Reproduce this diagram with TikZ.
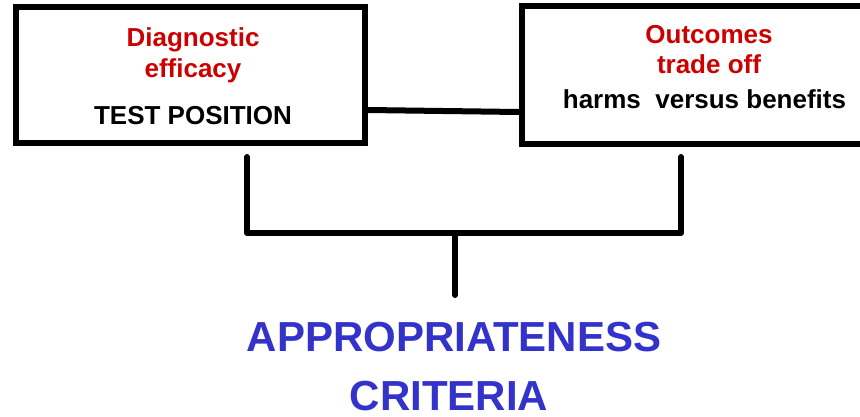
\documentclass[tikz,border=0pt]{standalone}
\usepackage{fontspec}
\setmainfont{Liberation Sans}
\definecolor{hdred}{HTML}{CC0000}
\definecolor{critblue}{HTML}{3333CC}
\begin{document}
\begin{tikzpicture}[x=1pt,y=-1pt,
  box/.style={draw=black,line width=6pt,minimum width=#1,inner sep=0pt},
  line/.style={draw=black,line width=6pt,line cap=round,line join=round},
  redtxt/.style={anchor=base,inner sep=0pt,text=hdred,font=\fontsize{26}{31}\selectfont\bfseries},
  blktxt/.style={anchor=base,inner sep=0pt,text=black,font=\fontsize{26}{31}\selectfont\bfseries},
  bluetxt/.style={anchor=base,inner sep=0pt,text=critblue,font=\fontsize{42}{50}\selectfont\bfseries}]
\useasboundingbox (0,0) rectangle (860,416);
\clip (0,0) rectangle (860,416);
\fill[white] (0,0) rectangle (860,416);
\node[box=349pt,minimum height=136pt] (L) at (190.5,75) {};
\node[box=368pt,minimum height=138.5pt] (R) at (706,74.75) {};
\node[redtxt] (l1) at (193,46) {Diagnostic};
\node[redtxt] (l2) at (193,77) {efficacy};
\node[blktxt] (l3) at (193,124) {TEST POSITION};
\node[redtxt] (r1) at (709,43) {Outcomes};
\node[redtxt] (r2) at (709,73) {trade off};
\node[blktxt] (r3) at (704.5,108) {harms\ \ versus benefits};
\node[bluetxt] (c1) at (454,351) {APPROPRIATENESS};
\node[bluetxt] (c2) at (449,410) {CRITERIA};
\draw[line width=6pt] ([yshift=-35pt]L.east) -- ([yshift=-37.25pt]R.west);
\coordinate (bl) at (247,157);
\coordinate (blb) at (247,233);
\coordinate (br) at (681,157);
\coordinate (brb) at (681,233);
\coordinate (st) at (455,233);
\coordinate (sb) at (455,295);
\draw[line] (bl) -- (blb) -- (brb) -- (br);
\draw[line] (st) -- (sb);
\end{tikzpicture}
\end{document}
